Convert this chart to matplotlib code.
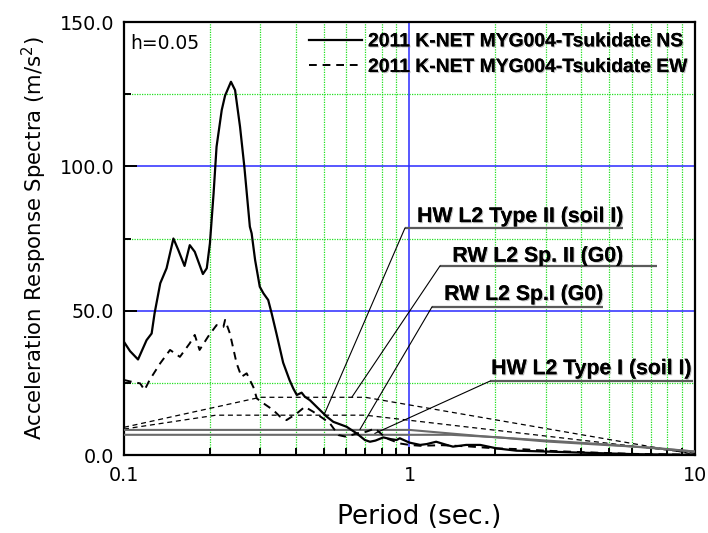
import numpy as np
import matplotlib
matplotlib.use("Agg")
import matplotlib.pyplot as plt
import matplotlib.patheffects as pe
from matplotlib.ticker import FixedLocator, FormatStrFormatter, NullFormatter

plt.rcParams['font.family'] = ['Liberation Sans', 'DejaVu Sans']

# --- observed spectra (K-NET MYG004 Tsukidate, 2011), period [s] / Sa [m/s^2]
ns_T = [0.100, 0.105, 0.112, 0.120, 0.125, 0.128, 0.134, 0.141, 0.149, 0.155,
        0.163, 0.170, 0.177, 0.189, 0.195, 0.200, 0.206, 0.211, 0.220, 0.226,
        0.237, 0.245, 0.255, 0.264, 0.276, 0.280, 0.288, 0.299, 0.308, 0.320,
        0.329, 0.342, 0.361, 0.380, 0.392, 0.403, 0.419, 0.430, 0.448, 0.473,
        0.513, 0.541, 0.602, 0.653, 0.698, 0.727, 0.760, 0.810, 0.860, 0.901,
        0.925, 1.00, 1.09, 1.15, 1.24, 1.35, 1.42, 1.58, 1.77, 2.02,
        2.37, 3.03, 4.05, 6.10, 10.0]
ns_Sa = [39.2, 36.0, 33.1, 39.8, 42.1, 49.1, 59.5, 64.7, 75.0, 71.0,
         65.5, 72.7, 70.4, 62.7, 64.7, 73.3, 90.6, 106.8, 119.5, 124.5,
         129.3, 126.4, 113.7, 99.9, 79.1, 76.8, 67.5, 58.3, 56.0, 53.7,
         49.1, 42.1, 32.0, 26.0, 23.0, 20.8, 21.6, 20.2, 19.0, 16.7,
         13.3, 11.5, 9.8, 7.5, 5.2, 4.6, 5.0, 6.1, 5.5, 5.2,
         5.8, 4.3, 3.5, 3.8, 4.6, 3.5, 2.9, 3.5, 3.5, 2.3,
         1.5, 1.2, 0.8, 0.3, 0.05]

ew_T = [0.100, 0.105, 0.114, 0.118, 0.123, 0.134, 0.145, 0.157, 0.170, 0.177,
        0.184, 0.197, 0.211, 0.223, 0.226, 0.235, 0.248, 0.258, 0.269, 0.284,
        0.292, 0.308, 0.333, 0.352, 0.371, 0.403, 0.430, 0.460, 0.498, 0.526,
        0.564, 0.602, 0.653, 0.707, 0.757, 0.830, 0.925, 1.00, 1.09, 1.30,
        1.60, 2.00, 2.50, 3.00, 4.00, 6.00, 10.0]
ew_Sa = [26.0, 25.5, 24.8, 22.5, 26.0, 31.8, 36.4, 34.0, 38.7, 41.6,
         36.4, 41.0, 45.0, 44.4, 46.8, 42.1, 31.8, 27.1, 28.3, 23.5,
         19.6, 17.9, 15.6, 13.3, 12.1, 14.4, 16.7, 15.0, 12.7, 11.0,
         6.9, 6.3, 7.5, 8.1, 9.2, 5.8, 4.0, 3.5, 3.2, 3.4,
         3.0, 2.3, 2.0, 1.5, 1.0, 0.4, 0.1]

# --- design spectra
hw2_T = [0.1, 0.3, 0.7, 10.0]          # HW L2 Type II (soil I)
hw2_Sa = [9.6, 20.0, 20.0, 0.24]
rw2_T = [0.1, 0.21, 0.7, 10.0]         # RW L2 Sp. II (G0)
rw2_Sa = [9.0, 13.8, 13.8, 0.6]
rw1_T = [0.1, 1.0, 1.9, 5.0, 10.0]     # RW L2 Sp.I (G0)
rw1_Sa = [8.7, 8.7, 6.3, 3.6, 1.2]
hw1_T = [0.1, 1.4, 2.0, 3.0, 5.0, 7.0, 10.0]  # HW L2 Type I (soil I)
hw1_Sa = [7.0, 7.0, 6.2, 4.7, 3.4, 2.6, 1.2]

# label text, text anchor (T, Sa), underline (T_left, T_right, Sa), leader target (T, Sa)
labels = [
    ("HW L2 Type II (soil I)", (5.59, 80.7), (0.964, 5.59, 78.6), (0.502, 13.9)),
    ("RW L2 Sp. II (G0)",      (5.59, 67.0), (1.279, 7.36, 65.5), (0.629, 20.1)),
    ("RW L2 Sp.I (G0)",        (4.76, 53.7), (1.199, 4.76, 51.3), (0.671, 8.9)),
    ("HW L2 Type I (soil I)",  (9.69, 28.0), (1.914, 9.84, 25.6), (0.757, 7.5)),
]

fig = plt.figure(figsize=(7.08, 5.33), dpi=100)
ax = fig.add_axes([0.1751, 0.1463, 0.8065, 0.8124])

ax.set_xscale('log')
ax.set_xlim(0.1, 10)
ax.set_ylim(0, 150)

# grid: green dotted on minor, blue solid on majors
green = '#22e022'
for t in [k * d for d in (0.1, 1.0) for k in range(2, 10)]:
    ax.axvline(t, color=green, lw=0.9, ls=(0, (1, 1)), zorder=1)
for s in (25, 75, 125):
    ax.axhline(s, color=green, lw=0.9, ls=(0, (1, 1)), zorder=1)
ax.axvline(1.0, color='#2a2aff', lw=1.1, zorder=1)
for s in (50, 100):
    ax.axhline(s, color='#2a2aff', lw=1.1, zorder=1)

# design spectra
ax.plot(hw2_T, hw2_Sa, color='black', lw=0.9, dashes=(4, 3), zorder=3)
ax.plot(rw2_T, rw2_Sa, color='black', lw=0.9, dashes=(4, 3), zorder=3)
ax.plot(rw1_T, rw1_Sa, color='#6a6a6a', lw=1.5, zorder=3)
ax.plot(hw1_T, hw1_Sa, color='#6a6a6a', lw=1.5, zorder=3)

# observed spectra
ax.plot(ns_T, ns_Sa, color='black', lw=1.6, zorder=4,
        label='2011 K-NET MYG004-Tsukidate NS')
ax.plot(ew_T, ew_Sa, color='black', lw=1.4, dashes=(4, 3), zorder=4,
        label='2011 K-NET MYG004-Tsukidate EW')

shadow = [pe.withSimplePatchShadow(offset=(0.8, -0.8), shadow_rgbFace='gray', alpha=0.5),
          pe.Normal()]

for text, (tx, ty), (ul, ur, uy), (px, py) in labels:
    ax.text(tx, ty, text, ha='right', va='baseline', fontsize=15.3,
            fontweight='bold', path_effects=shadow, zorder=6)
    ax.plot([ul, ur], [uy, uy], color='#5a5a5a', lw=1.6, zorder=5,
            solid_capstyle='butt', clip_on=False)
    ax.plot([px, ul], [py, uy], color='black', lw=0.8, zorder=5)

ax.text(0.011, 0.951, 'h=0.05', transform=ax.transAxes, fontsize=13.5,
        family='DejaVu Sans', ha='left', va='center')

leg = ax.legend(loc='upper right', bbox_to_anchor=(0.985, 0.975), frameon=False,
                prop={'weight': 'bold', 'size': 13.9}, handlelength=2.75,
                handletextpad=0.33, labelspacing=0.42, borderpad=0, borderaxespad=0)
for t in leg.get_texts():
    t.set_path_effects(shadow)

# ticks
ax.yaxis.set_major_locator(FixedLocator([0, 50, 100, 150]))
ax.yaxis.set_minor_locator(FixedLocator([25, 75, 125]))
ax.yaxis.set_major_formatter(FormatStrFormatter('%.1f'))
ax.set_xticks([0.1, 1, 10])
ax.set_xticklabels(['0.1', '1', '10'])
ax.xaxis.set_minor_formatter(NullFormatter())
ax.tick_params(which='both', direction='in', top=False, right=False,
               labelsize=13.8, width=1.4)
ax.tick_params(axis='y', which='major', length=9, pad=7)
ax.tick_params(axis='y', which='minor', length=5)
ax.tick_params(axis='x', which='major', length=6, pad=8)
ax.tick_params(axis='x', which='minor', length=5)
for lab in ax.get_xticklabels() + ax.get_yticklabels():
    lab.set_family('DejaVu Sans')

for sp in ax.spines.values():
    sp.set_linewidth(1.6)

ax.set_xlabel('Period (sec.)', fontsize=19, family='DejaVu Sans')
ax.xaxis.set_label_coords(0.5175, -0.112)
ax.set_ylabel('Acceleration Response Spectra (m/s$^2$)', fontsize=15.3,
              family='DejaVu Sans', labelpad=8)

fig.savefig('out.png', dpi=100)
